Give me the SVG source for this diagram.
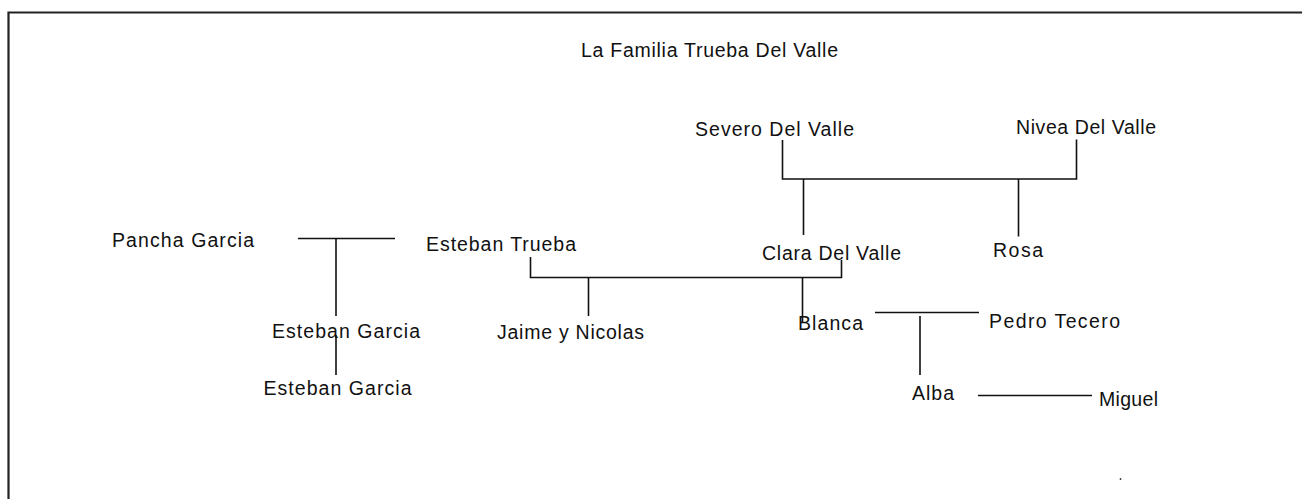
<svg xmlns="http://www.w3.org/2000/svg" width="1302" height="499" viewBox="0 0 1302 499">
  <style>
    text { font-family: "Liberation Sans", Arial, sans-serif; font-size: 19.5px; fill: #111; }
    .ln { stroke: #111; stroke-width: 1.6; fill: none; }
    .frame { stroke: #222; stroke-width: 2.2; fill: none; }
  </style>
  <rect width="1302" height="499" fill="#fff"/>
  <path class="frame" d="M8.5,499 V12.5 H1302"/>
  <g id="title"><text x="581" y="57" textLength="257" lengthAdjust="spacing">La Familia Trueba Del Valle</text></g>
  <g id="severo"><text x="695" y="136" textLength="159" lengthAdjust="spacing">Severo Del Valle</text></g>
  <g id="nivea"><text x="1016" y="134" textLength="140" lengthAdjust="spacing">Nivea Del Valle</text></g>
  <g id="pancha"><text x="112" y="247" textLength="142" lengthAdjust="spacing">Pancha Garcia</text></g>
  <g id="esteban-trueba"><text x="426" y="251" textLength="150" lengthAdjust="spacing">Esteban Trueba</text></g>
  <g id="clara"><text x="762" y="259.5" textLength="139" lengthAdjust="spacing">Clara Del Valle</text></g>
  <g id="rosa"><text x="993" y="256.5" textLength="50" lengthAdjust="spacing">Rosa</text></g>
  <g id="esteban-garcia-1"><text x="272" y="338" textLength="148" lengthAdjust="spacing">Esteban Garcia</text></g>
  <g id="jaime-nicolas"><text x="497" y="339" textLength="147" lengthAdjust="spacing">Jaime y Nicolas</text></g>
  <g id="blanca"><text x="798" y="330" textLength="65" lengthAdjust="spacing">Blanca</text></g>
  <g id="pedro"><text x="989" y="327.5" textLength="131" lengthAdjust="spacing">Pedro Tecero</text></g>
  <g id="esteban-garcia-2"><text x="263.5" y="395" textLength="148" lengthAdjust="spacing">Esteban Garcia</text></g>
  <g id="alba"><text x="912" y="400" textLength="42" lengthAdjust="spacing">Alba</text></g>
  <g id="miguel"><text x="1099" y="405.5" textLength="59" lengthAdjust="spacing">Miguel</text></g>
  <g id="connectors">
    <path class="ln" d="M298,238.5 H395 M336,238.5 V316 M336,335 V375"/>
    <path class="ln" d="M782.5,140 V179 H1076.5 V139.5 M803.5,179 V235 M1018.5,179 V236.5"/>
    <path class="ln" d="M530.5,257 V277.5 H841.5 V260 M588.5,277.5 V316 M802.5,277.5 V322"/>
    <path class="ln" d="M875,312.5 H979 M920,316 V375"/>
    <path class="ln" d="M978,395.5 H1092"/>
  </g>
  <circle cx="1120.5" cy="479" r="0.9" fill="#333"/>
</svg>
